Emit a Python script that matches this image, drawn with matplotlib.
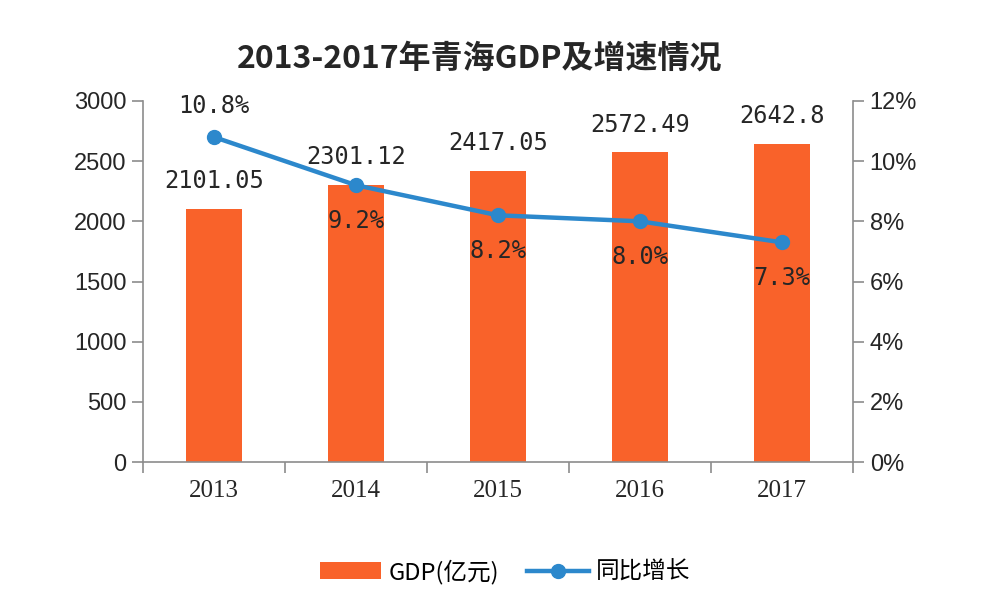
"""
Qinghai GDP 2013-2017 with year-on-year growth
"""

import matplotlib
matplotlib.use("Agg")
import matplotlib.pyplot as plt
from matplotlib.ticker import FuncFormatter

# ---------------------------------------------------------------------------
# Data
# ---------------------------------------------------------------------------

YEARS      = ["2013", "2014", "2015", "2016", "2017"]
GDP        = [2101.05, 2301.12, 2417.05, 2572.49, 2642.8]
GDP_LABELS = ["2101.05", "2301.12", "2417.05", "2572.49", "2642.8"]
GROWTH     = [10.8, 9.2, 8.2, 8.0, 7.3]
TITLE      = "2013-2017年青海GDP及增速情况"

BAR_COLOR  = "#F9622A"
LINE_COLOR = "#2C88CC"
AXIS_COLOR = "#8C8C8C"
TEXT_COLOR = "#262626"

CJK   = ["Noto Sans CJK SC", "DejaVu Sans"]
MONO  = ["DejaVu Sans Mono"]
NUM   = ["Liberation Sans"]
SERIF = ["Liberation Serif"]

# ---------------------------------------------------------------------------
# Plot
# ---------------------------------------------------------------------------

fig = plt.figure(figsize=(10, 6.08), dpi=100)
ax = fig.add_axes([0.143, 0.240, 0.710, 0.594])
ax2 = ax.twinx()

x = list(range(len(YEARS)))
bars = ax.bar(x, GDP, width=0.39, color=BAR_COLOR, zorder=2, label="GDP(亿元)")
line, = ax2.plot(x, GROWTH, color=LINE_COLOR, lw=3.2, marker="o", ms=10,
                 zorder=3, label="同比增长")

ax.set_xlim(-0.5, len(YEARS) - 0.5)
ax.set_ylim(0, 3000)
ax.set_yticks(range(0, 3001, 500))
ax2.set_ylim(0, 12)
ax2.set_yticks(range(0, 13, 2))
ax2.yaxis.set_major_formatter(FuncFormatter(lambda v, _: f"{v:.0f}%"))

ax.set_xticks(x)
ax.set_xticklabels(YEARS, family=SERIF, fontsize=18, color=TEXT_COLOR)
ax.set_xticks([i - 0.5 for i in range(len(YEARS) + 1)], minor=True)
ax.tick_params(axis="x", which="major", length=0, pad=13)
ax.tick_params(axis="x", which="minor", length=8, color=AXIS_COLOR, width=1.2)

for a in (ax, ax2):
    for s in a.spines.values():
        s.set_color(AXIS_COLOR)
        s.set_linewidth(1.2)
    a.spines["top"].set_visible(False)
ax.spines["right"].set_visible(False)
ax2.spines["left"].set_visible(False)
ax2.spines["bottom"].set_visible(False)

ax.tick_params(axis="y", length=8, color=AXIS_COLOR, width=1.2,
               labelsize=17, labelcolor=TEXT_COLOR, pad=4)
ax2.tick_params(axis="y", length=8, color=AXIS_COLOR, width=1.2,
                labelsize=17, labelcolor=TEXT_COLOR, pad=4)
for lbl in ax.get_yticklabels() + ax2.get_yticklabels():
    lbl.set_family(NUM)

# bar value labels
for xi, v, s in zip(x, GDP, GDP_LABELS):
    ax.annotate(s, (xi, v), xytext=(0, 20), textcoords="offset points",
                ha="center", va="center", family=MONO, fontsize=17,
                color=TEXT_COLOR, zorder=4)

# growth labels: first above the marker, the rest below
for i, (xi, g) in enumerate(zip(x, GROWTH)):
    dy = 22 if i == 0 else -26
    ax2.annotate(f"{g:.1f}%", (xi, g), xytext=(0, dy), textcoords="offset points",
                 ha="center", va="center", family=MONO, fontsize=17,
                 color=TEXT_COLOR, zorder=4)

fig.suptitle(TITLE, x=0.48, y=0.93, family=CJK, fontsize=23,
             fontweight="bold", color=TEXT_COLOR)

fig.legend(handles=[bars, line], labels=["GDP(亿元)", "同比增长"],
           loc="center", bbox_to_anchor=(0.505, 0.06), ncol=2, frameon=False,
           prop={"family": CJK, "size": 17}, handlelength=2.6,
           columnspacing=1.2, handletextpad=0.3)

fig.savefig("out.png", dpi=100)
